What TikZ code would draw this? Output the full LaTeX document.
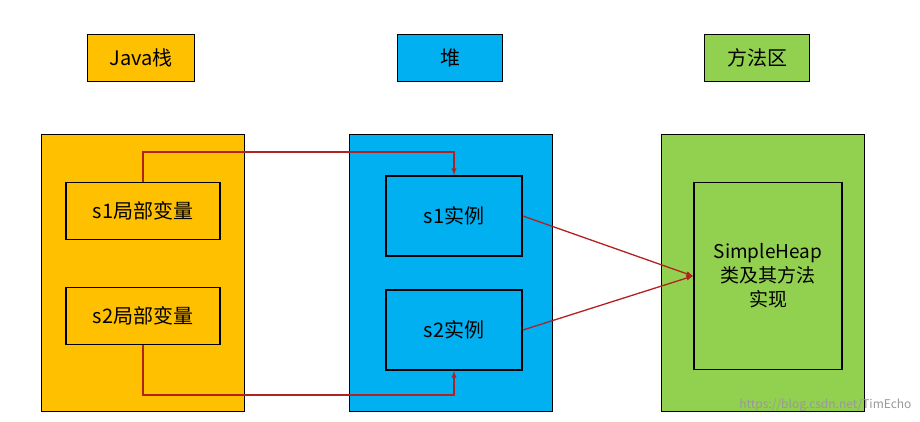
\documentclass[tikz,border=0pt]{standalone}
\usepackage{fontspec}
\setmainfont{Noto Sans CJK SC}
\usetikzlibrary{positioning}
\definecolor{stackc}{HTML}{FFC000}
\definecolor{heapc}{HTML}{00B0F0}
\definecolor{methc}{HTML}{92D050}
\definecolor{linkc}{HTML}{B22222}
\tikzset{
  box/.style={draw=black, line width=1.8pt, inner sep=0pt, font=\fontsize{20}{24}\selectfont, align=center},
  link/.style={draw=linkc, line width=1.3pt, -latex}
}
\begin{document}
\begin{tikzpicture}[x=1pt, y=-1pt]
\useasboundingbox[fill=white] (0,0) rectangle (920,422);
% titles
\node[box, fill=stackc, minimum width=107pt, minimum height=47pt] (tstack) at (141,58) {Java栈};
\node[box, fill=heapc, minimum width=105pt, minimum height=47pt] (theap) at (450,58) {堆};
\node[box, fill=methc, minimum width=105pt, minimum height=47pt] (tmeth) at (757,58) {方法区};

% areas
\node[box, fill=stackc, minimum width=203pt, minimum height=277pt] (stack) at (143,273) {};
\node[box, fill=heapc, minimum width=203pt, minimum height=277pt] (heap) at (451,273) {};
\node[box, fill=methc, minimum width=203pt, minimum height=277pt] (meth) at (763,273) {};

% inner boxes
\node[box, fill=stackc, minimum width=154pt, minimum height=57pt] (v1) at (143,211) {s1局部变量};
\node[box, fill=stackc, minimum width=154pt, minimum height=57pt] (v2) at (143,316) {s2局部变量};
\node[box, fill=heapc, minimum width=136pt, minimum height=80pt] (o1) at (454,216) {s1实例};
\node[box, fill=heapc, minimum width=136pt, minimum height=80pt] (o2) at (454,330) {s2实例};
\node[box, fill=methc, minimum width=148pt, minimum height=187pt, font=\fontsize{19}{24}\selectfont] (cls) at (768,276) {SimpleHeap\\类及其方法\\实现};

% references
\draw[link] (v1.north) |- (454,152) -- (o1.north);
\draw[link] (v2.south) |- (454,395) -- (o2.south);
\draw[link] (o1.east) -- (cls.west);
\draw[link] (o2.east) -- (cls.west);

\node[font=\fontsize{12}{14}\selectfont, text=black!40, anchor=east] (mark) at (915,405) {https://blog.csdn.net/TimEcho};
\end{tikzpicture}
\end{document}
